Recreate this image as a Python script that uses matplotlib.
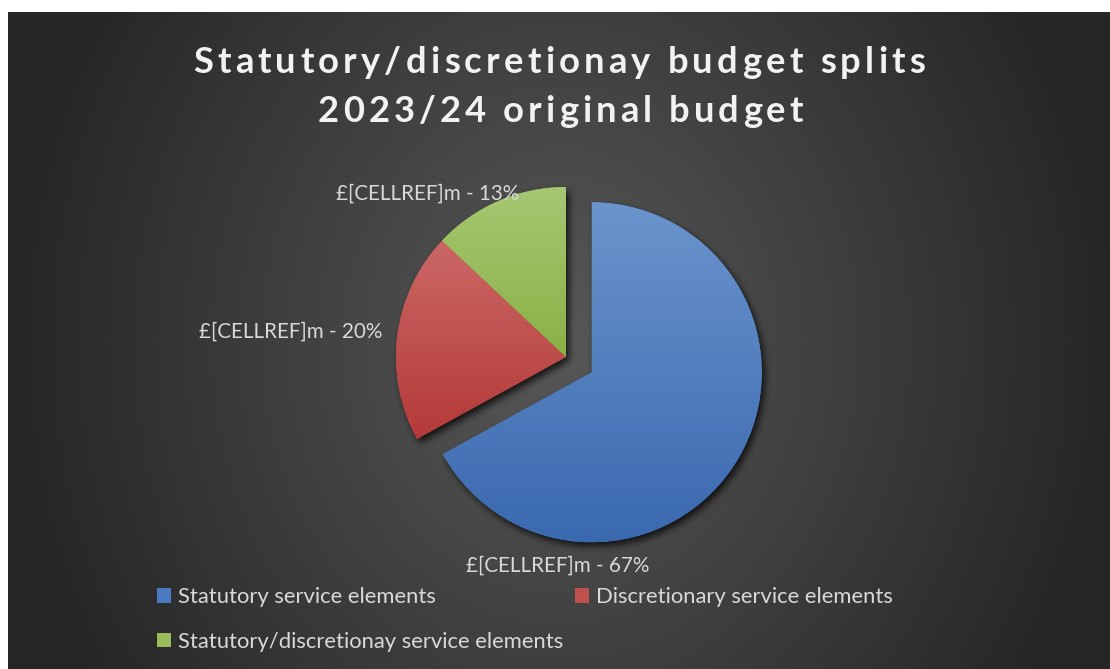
import numpy as np
import matplotlib
matplotlib.use("Agg")
import matplotlib.pyplot as plt
from matplotlib.font_manager import FontProperties
from matplotlib.patches import Patch
from matplotlib.colors import to_rgb

# ---- data -------------------------------------------------------------
categories = [
    "Statutory service elements",
    "Discretionary service elements",
    "Statutory/discretionay service elements",
]
shares = [67, 20, 13]
label_fmt = "£[CELLREF]m - {}%"
title_lines = ["Statutory/discretionay budget splits", "2023/24 original budget"]

# ---- style ------------------------------------------------------------
top_colors = ["#6a94cc", "#cb6866", "#a6c772"]
bottom_colors = ["#3b69b0", "#b43a38", "#89b146"]
flat_colors = ["#4a7bc0", "#c0504d", "#9bbb59"]
text_color = "#d9d9d9"
title_color = "#f2f2f2"

W, H = 1110, 669
fig = plt.figure(figsize=(W / 100, H / 100), dpi=100, facecolor="white")
ax = fig.add_axes([0, 0, 1, 1])
ax.set_axis_off()

# chart area with a soft radial gradient
x0, top = 8, 12
yy, xx = np.mgrid[0:H - top, x0:W]
cx, cy = 560, 340
r = np.sqrt(((xx - cx) / 550.0) ** 2 + ((yy + top - cy) / 640.0) ** 2)
lum = np.clip(88 - 50 * r, 37, 255) / 255.0
bg = np.dstack([lum, lum, lum])
ax.imshow(bg, extent=[x0, W, 0, H - top], origin="upper", zorder=0,
          interpolation="bilinear")

# pie: positions in pixel space (y measured upward)
pie_center = (566, H - 357)
pie_radius = 170
wedges, _ = ax.pie(
    shares,
    colors=flat_colors,
    startangle=90,
    counterclock=False,
    explode=[30, 0, 0],
    center=pie_center,
    radius=pie_radius,
    wedgeprops=dict(linewidth=0),
    frame=False,
)
for w in wedges:
    w.set_zorder(3)

# blurred drop shadow under the slices
gy, gx = np.mgrid[0:H, 0:W]
pts = np.column_stack([gx.ravel() + 0.5, (H - gy.ravel()) - 0.5])
mask = np.zeros(H * W)
for w in wedges:
    mask = np.maximum(mask, w.get_path().contains_points(pts))
mask = mask.reshape(H, W)


def box_blur(a, k, axis):
    pad = [(0, 0), (0, 0)]
    pad[axis] = (k, k)
    p = np.pad(a, pad, mode="edge")
    c = np.cumsum(p, axis=axis)
    c = np.insert(c, 0, 0, axis=axis)
    n = a.shape[axis]
    if axis == 0:
        return (c[2 * k + 1:2 * k + 1 + n] - c[0:n]) / (2 * k + 1)
    return (c[:, 2 * k + 1:2 * k + 1 + n] - c[:, 0:n]) / (2 * k + 1)


sh = mask
for _ in range(3):
    sh = box_blur(sh, 3, 0)
    sh = box_blur(sh, 3, 1)
sh = np.roll(np.roll(sh, 4, axis=0), 3, axis=1)
shadow = np.zeros((H, W, 4))
shadow[..., 3] = 0.75 * sh
ax.imshow(shadow, extent=[0, W, 0, H], origin="upper", zorder=2,
          interpolation="bilinear")

# vertical gradient fill inside every slice
for w, c_top, c_bot in zip(wedges, top_colors, bottom_colors):
    ext = w.get_path().get_extents()
    t = np.linspace(0, 1, 256)[:, None]
    ct, cb = np.array(to_rgb(c_top)), np.array(to_rgb(c_bot))
    grad = (ct * (1 - t) + cb * t)[:, None, :].repeat(2, axis=1)
    im = ax.imshow(grad, extent=[ext.x0, ext.x1, ext.y0, ext.y1],
                   origin="upper", zorder=4, interpolation="bilinear")
    im.set_clip_path(w)

# data labels
label_pos = [(558, 572), (291, 338), (428, 200)]
for val, (lx, ly) in zip(shares, label_pos):
    ax.text(lx, H - ly, label_fmt.format(val), ha="center", va="baseline",
            color=text_color, fontsize=14.9, family="Lato", zorder=6)

# title with letter tracking
renderer = fig.canvas.get_renderer()
tprop = FontProperties(family="Lato", weight="bold", size=26.2)


def tracked(s, left, right, baseline):
    def wid(txt):
        return renderer.get_text_width_height_descent(txt, tprop, ismath=False)[0]
    natural = wid(s)
    gap = (right - left - natural) / (len(s) - 1)
    for i, ch in enumerate(s):
        if ch == " ":
            continue
        xpos = left + wid(s[:i + 1]) - wid(ch) + i * gap
        ax.text(xpos, H - baseline, ch, fontproperties=tprop, color=title_color,
                ha="left", va="baseline", zorder=6)


tracked(title_lines[0], 193, 925, 73)
tracked(title_lines[1], 318, 803, 122)

# legend
handles = [Patch(facecolor=c, edgecolor="none") for c in flat_colors]
order = [0, 2, 1]
leg = ax.legend(
    [handles[i] for i in order],
    [categories[i] for i in order],
    ncol=2,
    loc="upper left",
    bbox_to_anchor=(157 / W, 1 - 587 / H),
    bbox_transform=fig.transFigure,
    frameon=False,
    borderpad=0,
    borderaxespad=0,
    handlelength=0.64,
    handleheight=0.64,
    handletextpad=0.3,
    columnspacing=0.55,
    labelspacing=1.12,
    prop=FontProperties(family="Lato", size=15.8),
    labelcolor=text_color,
)
leg.set_zorder(6)

ax.set_xlim(0, W)
ax.set_ylim(0, H)
ax.set_aspect("auto")
fig.savefig("out.png", dpi=100, facecolor="white")
